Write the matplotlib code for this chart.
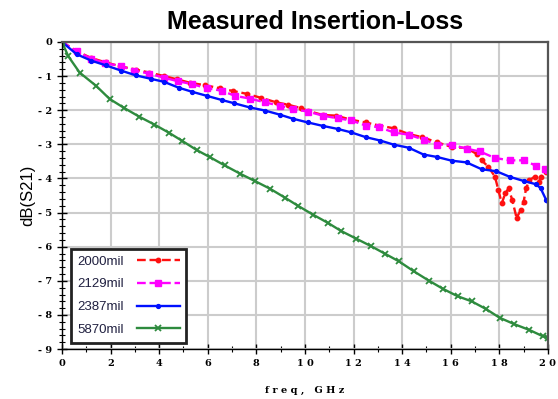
import matplotlib
matplotlib.use("Agg")
import matplotlib.pyplot as plt
from matplotlib.ticker import MultipleLocator

# values (freq in GHz, loss in dB)
freq_2000 = [0, 0.6, 1.2, 1.8, 2.37, 3.04, 3.6, 4.2, 4.75, 5.29, 5.9, 6.51, 7.05, 7.6,
             8.2, 8.82, 9.3, 9.84, 10.12, 10.73, 11.28, 11.9, 12.5, 13.05, 13.65, 14.27,
             14.82, 15.43, 16.04, 16.65, 17.06, 17.27, 17.55, 17.82, 17.96, 18.1, 18.24,
             18.38, 18.53, 18.71, 18.88, 19.0, 19.1, 19.24, 19.45, 19.63, 19.71, 19.9, 20]
loss_2000 = [0, -0.27, -0.47, -0.6, -0.71, -0.81, -0.9, -1.0, -1.1, -1.2, -1.27, -1.36,
             -1.44, -1.52, -1.64, -1.77, -1.84, -1.94, -2.02, -2.14, -2.16, -2.28, -2.36,
             -2.45, -2.53, -2.7, -2.79, -2.94, -3.08, -3.11, -3.28, -3.47, -3.66, -3.95,
             -4.34, -4.73, -4.44, -4.29, -4.63, -5.16, -4.92, -4.68, -4.29, -4.05, -3.95,
             -4.1, -3.95, -3.8, -3.78]

freq_2129 = [0, 0.6, 1.21, 1.76, 2.43, 2.98, 3.6, 4.2, 4.76, 5.37, 5.98, 6.57, 7.12, 7.73,
             8.35, 8.96, 9.5, 10.12, 10.73, 11.35, 11.9, 12.5, 13.05, 13.65, 14.27, 14.88,
             15.43, 16.04, 16.65, 17.2, 17.81, 18.42, 19.03, 19.51, 19.86, 20]
loss_2129 = [0, -0.28, -0.49, -0.62, -0.71, -0.84, -0.93, -1.05, -1.15, -1.24, -1.36,
             -1.43, -1.58, -1.66, -1.77, -1.87, -1.97, -2.04, -2.16, -2.24, -2.3, -2.45,
             -2.5, -2.65, -2.72, -2.86, -3.01, -3.01, -3.13, -3.21, -3.4, -3.47, -3.47,
             -3.63, -3.73, -3.76]

freq_2387 = [0, 0.6, 1.21, 1.82, 2.43, 3.04, 3.65, 4.2, 4.8, 5.35, 5.96, 6.57, 7.1, 7.73,
             8.35, 8.96, 9.5, 10.12, 10.73, 11.35, 11.9, 12.5, 13.1, 13.65, 14.27, 14.88,
             15.43, 16.04, 16.65, 17.27, 17.88, 18.42, 19.03, 19.51, 19.7, 19.92, 20]
loss_2387 = [0, -0.36, -0.55, -0.69, -0.84, -0.98, -1.08, -1.17, -1.34, -1.46, -1.58,
             -1.7, -1.8, -1.92, -2.01, -2.13, -2.25, -2.36, -2.46, -2.55, -2.65, -2.79,
             -2.89, -3.01, -3.1, -3.3, -3.37, -3.48, -3.53, -3.73, -3.79, -3.95, -4.08,
             -4.17, -4.29, -4.62, -4.67]

freq_5870 = [0, 0.26, 0.73, 1.41, 1.96, 2.57, 3.18, 3.8, 4.4, 4.95, 5.55, 6.1, 6.7, 7.33,
             7.95, 8.56, 9.17, 9.71, 10.33, 10.94, 11.49, 12.1, 12.71, 13.28, 13.87, 14.48,
             15.09, 15.67, 16.28, 16.86, 17.44, 18.01, 18.62, 19.24, 19.78, 20]
loss_5870 = [0, -0.42, -0.9, -1.29, -1.67, -1.94, -2.19, -2.42, -2.66, -2.9, -3.17, -3.38,
             -3.62, -3.86, -4.08, -4.3, -4.56, -4.8, -5.06, -5.3, -5.54, -5.76, -5.98, -6.2,
             -6.43, -6.72, -6.99, -7.23, -7.45, -7.6, -7.82, -8.08, -8.27, -8.44, -8.62,
             -8.66]

labels = ["2000mil", "2129mil", "2387mil", "5870mil"]

fig = plt.figure(figsize=(5.58, 3.99), dpi=100)
ax = fig.add_axes([0.111, 0.125, 0.871, 0.77])

ax.plot(freq_2000, loss_2000, color="#ff1010", ls="--", lw=1.7, marker="o", ms=3.2,
        label=labels[0])
ax.plot(freq_2129, loss_2129, color="#ff00ff", ls="--", lw=1.7, marker="s", ms=3.8,
        label=labels[1])
ax.plot(freq_2387, loss_2387, color="#0010ff", ls="-", lw=1.7, marker="o", ms=2.8,
        label=labels[2])
ax.plot(freq_5870, loss_5870, color="#2e8b3e", ls="-", lw=1.7, marker="x", ms=4.5,
        mew=1.3, label=labels[3])

ax.set_xlim(0, 20)
ax.set_ylim(-9, 0)
ax.xaxis.set_minor_locator(MultipleLocator(1))
ax.yaxis.set_minor_locator(MultipleLocator(0.2))
ax.set_xticks(range(0, 21, 2))
ax.set_xticklabels([" ".join(str(v)) for v in range(0, 21, 2)],
                   family="DejaVu Serif", fontweight="bold", fontsize=7)
ax.set_yticks(range(-9, 1))
ax.set_yticklabels(["- " + str(-v) if v < 0 else "0" for v in range(-9, 1)],
                   family="DejaVu Serif", fontweight="bold", fontsize=7)
ax.tick_params(which="major", direction="inout", length=7, width=1)
ax.tick_params(which="minor", direction="inout", length=4, width=0.8)
ax.tick_params(top=False, right=False)

ax.grid(True, which="major", color="#cccccc", lw=1.5)
ax.set_axisbelow(True)
for s in ["top", "right"]:
    ax.spines[s].set_color("#555555")
    ax.spines[s].set_linewidth(1.6)
for s in ["left", "bottom"]:
    ax.spines[s].set_color("black")
    ax.spines[s].set_linewidth(1)

ax.set_title("Measured Insertion-Loss", family="Liberation Sans", fontweight="bold",
             fontsize=18, pad=9, x=0.52)
ax.set_ylabel("dB(S21)", family="Liberation Sans", fontsize=12, labelpad=2)
ax.set_xlabel("f r e q ,   G H z", family="DejaVu Serif", fontweight="bold",
              fontsize=7, labelpad=13)

leg = ax.legend(loc="lower left", bbox_to_anchor=(0.005, 0.0), markerfirst=False,
                fancybox=False, edgecolor="#222222", framealpha=1, handlelength=3.2,
                prop={"family": "Liberation Sans", "size": 9.5}, labelspacing=0.8,
                borderpad=0.5, handletextpad=1.0)
leg.get_frame().set_linewidth(2)
for t in leg.get_texts():
    t.set_color("#202040")

fig.savefig("out.png", dpi=100)
